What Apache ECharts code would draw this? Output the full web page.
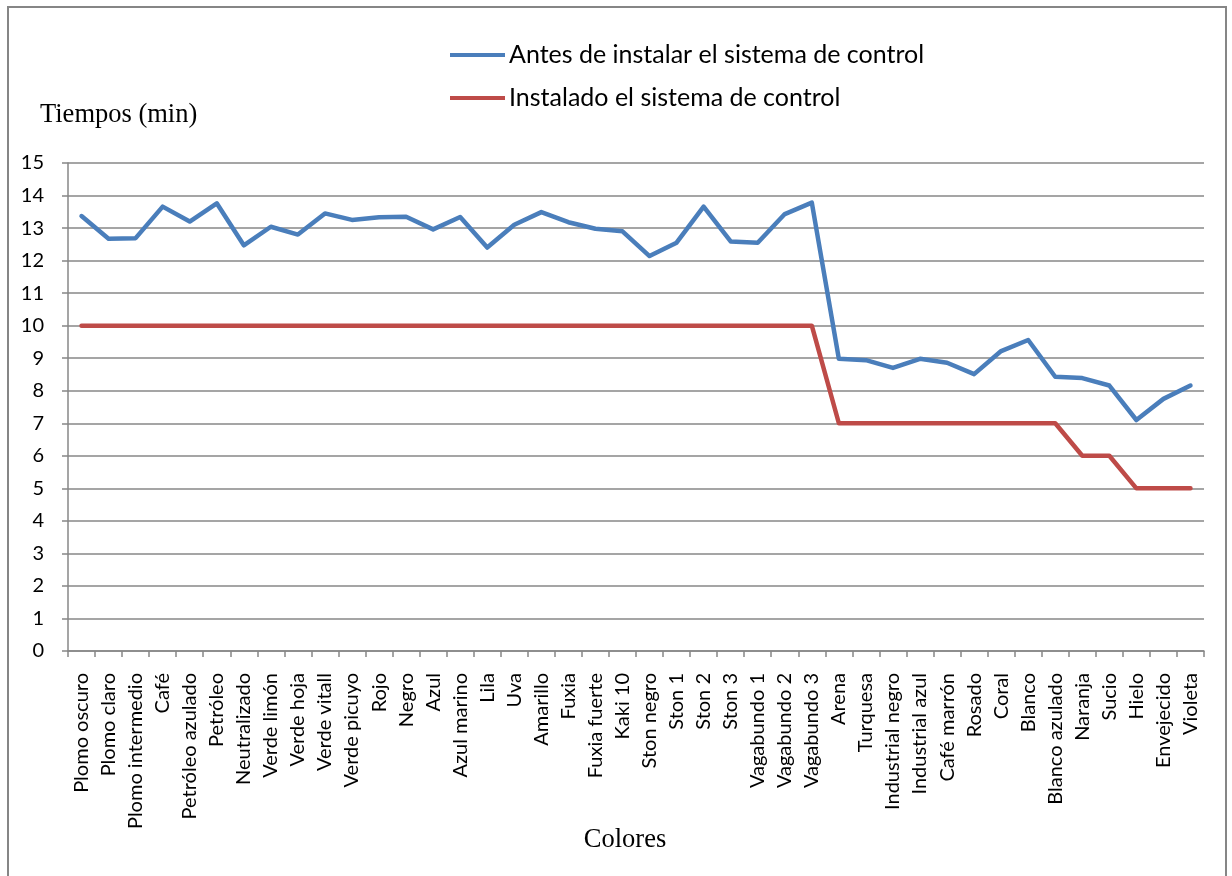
<!DOCTYPE html>
<html>
<head>
<meta charset="utf-8">
<script src="https://cdn.jsdelivr.net/npm/echarts@6/dist/echarts.min.js"></script>
<style>
  html, body { margin: 0; padding: 0; background: #fff; }
  #chart { width: 1232px; height: 876px; }
</style>
</head>
<body>
<div id="chart"></div>
<script>
// Color names (x axis categories)
const colores = [
  'Plomo oscuro', 'Plomo claro', 'Plomo intermedio', 'Café', 'Petróleo azulado', 'Petróleo',
  'Neutralizado', 'Verde limón', 'Verde hoja', 'Verde vitall', 'Verde picuyo', 'Rojo', 'Negro',
  'Azul', 'Azul marino', 'Lila', 'Uva', 'Amarillo', 'Fuxia', 'Fuxia fuerte', 'Kaki 10',
  'Ston negro', 'Ston 1', 'Ston 2', 'Ston 3', 'Vagabundo 1', 'Vagabundo 2', 'Vagabundo 3',
  'Arena', 'Turquesa', 'Industrial negro', 'Industrial azul', 'Café marrón', 'Rosado', 'Coral',
  'Blanco', 'Blanco azulado', 'Naranja', 'Sucio', 'Hielo', 'Envejecido', 'Violeta'
];

// Times (min) before the control system was installed
const antes = [
  13.37, 12.67, 12.69, 13.66, 13.2, 13.76,
  12.47, 13.04, 12.8, 13.45, 13.25, 13.33, 13.35,
  12.96, 13.34, 12.4, 13.1, 13.49, 13.18, 12.98, 12.9,
  12.14, 12.55, 13.66, 12.59, 12.55, 13.43, 13.78,
  8.98, 8.94, 8.7, 8.98, 8.86, 8.51, 9.22,
  9.56, 8.43, 8.39, 8.16, 7.1, 7.75, 8.16
];

// Times (min) with the control system installed
const instalado = [
  10, 10, 10, 10, 10, 10,
  10, 10, 10, 10, 10, 10, 10,
  10, 10, 10, 10, 10, 10, 10, 10,
  10, 10, 10, 10, 10, 10, 10,
  7, 7, 7, 7, 7, 7, 7,
  7, 7, 6, 6, 5, 5, 5
];

const serieNames = ['Antes de instalar el sistema de control', 'Instalado el sistema de control'];

const SANS = 'Lato';
const SERIF = '"Liberation Serif", "Times New Roman", serif';
const GRID_COLOR = '#878787';

const chart = echarts.init(document.getElementById('chart'), null, { renderer: 'canvas' });

chart.setOption({
  backgroundColor: '#ffffff',
  animation: false,
  color: ['#4a7ebb', '#be4b48'],
  graphic: [
    {
      type: 'rect',
      silent: true,
      shape: { x: 8, y: 7, width: 1218, height: 900 },
      style: { fill: 'none', stroke: '#868686', lineWidth: 2 }
    },
    {
      type: 'text',
      left: 40,
      top: 102,
      style: { text: 'Tiempos (min)', font: '26.5px ' + SERIF, fill: '#000' }
    },
    {
      type: 'text',
      x: 625,
      y: 827,
      style: { text: 'Colores', font: '26.5px ' + SERIF, fill: '#000', align: 'center', verticalAlign: 'top' }
    }
  ],
  legend: {
    orient: 'vertical',
    left: 450,
    top: 42,
    padding: 0,
    itemGap: 17,
    itemWidth: 55,
    itemHeight: 4,
    icon: 'rect',
    textStyle: { fontFamily: SANS, fontSize: 25, color: '#000', lineHeight: 26, padding: [0, 0, 0, -1] },
    data: serieNames
  },
  grid: { left: 68, right: 28, top: 163, bottom: 225, containLabel: false },
  xAxis: {
    type: 'category',
    data: colores,
    boundaryGap: true,
    axisLine: { show: true, lineStyle: { color: GRID_COLOR, width: 1.5 } },
    axisTick: { show: true, alignWithLabel: false, length: 6, lineStyle: { color: GRID_COLOR, width: 1.5 } },
    axisLabel: {
      interval: 0,
      rotate: 90,
      margin: 22,
      fontFamily: SANS,
      fontSize: 20,
      color: '#000'
    },
    splitLine: { show: false }
  },
  yAxis: {
    type: 'value',
    min: 0,
    max: 15,
    interval: 1,
    axisLine: { show: true, lineStyle: { color: GRID_COLOR, width: 1.5 } },
    axisTick: { show: true, length: 6, lineStyle: { color: GRID_COLOR, width: 1.5 } },
    axisLabel: { margin: 24, fontFamily: SANS, fontSize: 20, color: '#000' },
    splitLine: { show: true, lineStyle: { color: GRID_COLOR, width: 1.5 } }
  },
  series: [
    {
      name: serieNames[0],
      type: 'line',
      data: antes,
      showSymbol: false,
      symbol: 'none',
      lineStyle: { width: 4.5, cap: 'round', join: 'round' }
    },
    {
      name: serieNames[1],
      type: 'line',
      data: instalado,
      showSymbol: false,
      symbol: 'none',
      lineStyle: { width: 4.5, cap: 'round', join: 'round' }
    }
  ]
});
</script>
</body>
</html>
